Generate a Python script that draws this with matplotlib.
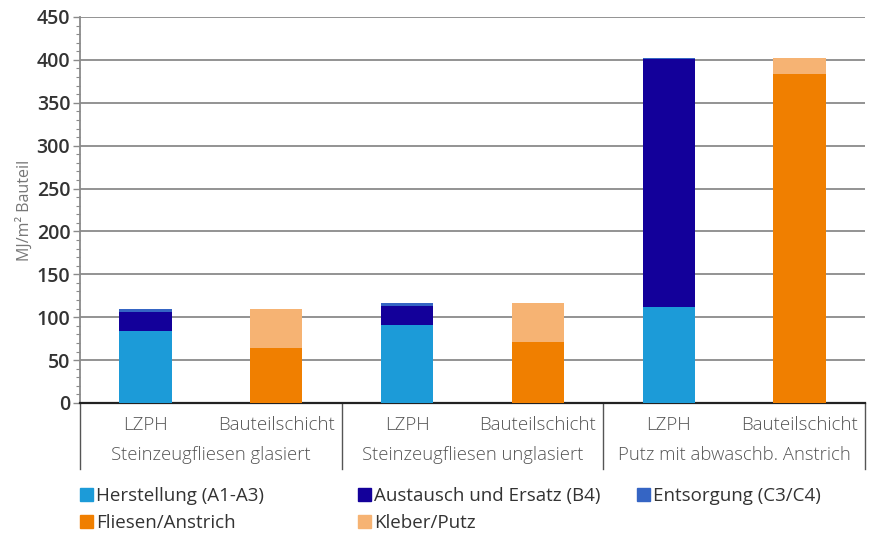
import numpy as np
import matplotlib.pyplot as plt
from matplotlib.lines import Line2D
from matplotlib.patches import Patch

plt.rcParams['font.family'] = ['Open Sans', 'DejaVu Sans']

# categories
sub_labels = ['LZPH', 'Bauteilschicht'] * 3
group_labels = ['Steinzeugfliesen glasiert', 'Steinzeugfliesen unglasiert',
                'Putz mit abwaschb. Anstrich']

# LZPH stacks (only at positions 0, 2, 4)
herstellung = [84, 0, 91, 0, 112, 0]
austausch = [22, 0, 22.5, 0, 288.5, 0]
entsorgung = [3.5, 0, 3, 0, 1.5, 0]
# Bauteilschicht stacks (positions 1, 3, 5)
fliesen = [0, 64.5, 0, 71.5, 0, 384]
kleber = [0, 45, 0, 45, 0, 18]

names = ['Herstellung (A1-A3)', 'Austausch und Ersatz (B4)', 'Entsorgung (C3/C4)',
         'Fliesen/Anstrich', 'Kleber/Putz']
cols = ['#1c9bd8', '#13009a', '#3565c4', '#f07f00', '#f6b373']

fig = plt.figure(figsize=(8.69, 5.36), dpi=100)
ax = fig.add_axes([80 / 869, 1 - 403 / 536, 785 / 869, 386 / 536])

x = np.arange(6)
w = 0.4
bottom = np.zeros(6)
series = [herstellung, austausch, entsorgung, fliesen, kleber]
for c, vals in zip(cols, series):
    vals = np.array(vals, dtype=float)
    ax.bar(x, vals, w, bottom=bottom, color=c, zorder=3)
    bottom += vals

ax.set_xlim(-0.5, 5.5)
ax.set_ylim(0, 450)
ax.set_yticks(np.arange(0, 451, 50))
ax.set_yticks(np.arange(0, 451, 10), minor=True)
ax.yaxis.grid(True, color='#8a8a8a', lw=1.3, zorder=0)
ax.tick_params(axis='y', which='major', length=5, width=1, color='#8a8a8a',
               labelsize=14, labelcolor='#333333', pad=2)
ax.tick_params(axis='y', which='minor', length=3, width=0.8, color='#8a8a8a')
for lab in ax.get_yticklabels():
    lab.set_fontweight('semibold')
ax.set_ylabel('MJ/m² Bauteil', fontsize=11.5, color='#777777', labelpad=3)

for s in ['top', 'right']:
    ax.spines[s].set_visible(False)
ax.spines['left'].set_color('#8a8a8a')
ax.spines['left'].set_linewidth(1.3)
ax.spines['bottom'].set_color('#222222')
ax.spines['bottom'].set_linewidth(1.6)

# two-level category axis
ax.set_xticks([])
trans = ax.get_xaxis_transform()
for i, lab in enumerate(sub_labels):
    ax.text(x[i], -0.058, lab, transform=trans, ha='center', va='center',
            fontsize=13.5, color='#555555', fontweight='light')
for g, lab in enumerate(group_labels):
    ax.text(2 * g + 0.5, -0.135, lab, transform=trans, ha='center', va='center',
            fontsize=13.3, color='#555555', fontweight='light')
for xb in [-0.5, 1.5, 3.5, 5.5]:
    ax.add_line(Line2D([xb, xb], [0, -0.17], transform=trans, color='#555555',
                       lw=1, clip_on=False))

# legend: one block per column
col_items = [[0, 3], [1, 4], [2]]
col_x = [65, 343, 622]
for items, cx in zip(col_items, col_x):
    leg = fig.legend([Patch(color=cols[i]) for i in items], [names[i] for i in items],
                     loc='upper left', bbox_to_anchor=(cx / 869, 1 - 472 / 536),
                     frameon=False, fontsize=13.5, handlelength=0.7,
                     handleheight=0.7, handletextpad=0.15, labelspacing=0.5,
                     borderpad=0.3)
    for t in leg.get_texts():
        t.set_color('#333333')
        t.set_fontweight('medium')

fig.savefig('out.png', dpi=100)
